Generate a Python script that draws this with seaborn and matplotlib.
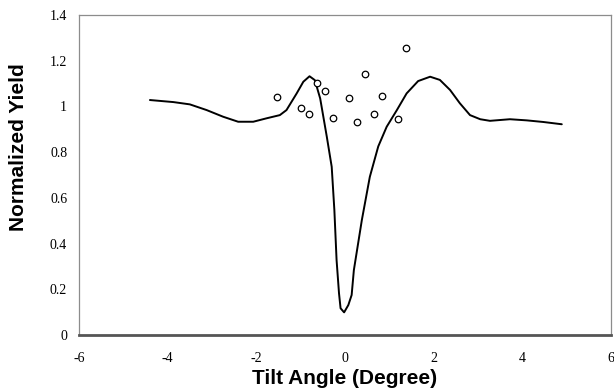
import matplotlib
matplotlib.use("Agg")
import matplotlib.pyplot as plt
import seaborn as sns
import pandas as pd

# Measured normalized yield (open circles)
meas_angle = [-1.53, -0.99, -0.81, -0.63, -0.44, -0.26, 0.10, 0.28, 0.46, 0.65, 0.83, 1.19, 1.37]
meas_yield = [1.041, 0.993, 0.967, 1.104, 1.069, 0.949, 1.038, 0.932, 1.142, 0.968, 1.047, 0.946, 1.257]

# Simulated angular scan (solid line)
sim_angle = [-4.40, -3.87, -3.50, -3.12, -2.75, -2.41, -2.07, -1.77, -1.47, -1.32, -1.09,
             -0.94, -0.80, -0.68, -0.56, -0.41, -0.30, -0.24, -0.19, -0.135, -0.10, -0.02,
             0.075, 0.15, 0.20, 0.38, 0.56, 0.75, 0.94, 1.17, 1.39, 1.65, 1.92, 2.14, 2.37,
             2.59, 2.82, 3.05, 3.27, 3.72, 4.10, 4.47, 4.89]
sim_yield = [1.028, 1.019, 1.009, 0.984, 0.955, 0.933, 0.933, 0.948, 0.962, 0.984, 1.057,
             1.108, 1.132, 1.115, 1.035, 0.867, 0.736, 0.547, 0.328, 0.182, 0.117, 0.099,
             0.131, 0.175, 0.284, 0.503, 0.692, 0.825, 0.911, 0.984, 1.057, 1.111, 1.130,
             1.116, 1.072, 1.014, 0.962, 0.944, 0.937, 0.944, 0.939, 0.932, 0.922]

x_ticks = [-6, -4, -2, 0, 2, 4, 6]
y_ticks = [0, 0.2, 0.4, 0.6, 0.8, 1.0, 1.2, 1.4]
y_tick_labels = ["0", "0.2", "0.4", "0.6", "0.8", "1", "1.2", "1.4"]

sim = pd.DataFrame({"angle": sim_angle, "yield": sim_yield})
meas = pd.DataFrame({"angle": meas_angle, "yield": meas_yield})

sns.set_style("white")
fig = plt.figure(figsize=(6.14, 3.92), dpi=100)
ax = fig.add_axes([79 / 614, 57 / 392, 532 / 614, 320 / 392])

sns.lineplot(data=sim, x="angle", y="yield", sort=False, color="black",
             linewidth=1.4, ax=ax)
sns.scatterplot(data=meas, x="angle", y="yield", marker="o", s=22,
                facecolor="white", edgecolor="black", linewidth=0.9, ax=ax, zorder=3)

ax.set_xlim(-6, 6)
ax.set_ylim(0, 1.4)
ax.set_xticks(x_ticks)
ax.set_xticklabels([str(t) for t in x_ticks])
ax.set_yticks(y_ticks)
ax.set_yticklabels(y_tick_labels)

for lbl in ax.get_xticklabels() + ax.get_yticklabels():
    lbl.set_fontfamily("Liberation Serif")
    lbl.set_fontsize(10)
    lbl.set_color("black")

ax.tick_params(axis="x", direction="out", length=3, width=1, color="#555555", pad=9)
ax.tick_params(axis="y", length=0, pad=8.5)

for side in ["top", "right", "left"]:
    ax.spines[side].set_color("#8c8c8c")
    ax.spines[side].set_linewidth(0.9)
ax.spines["bottom"].set_color("#555555")
ax.spines["bottom"].set_linewidth(2.0)

ax.set_xlabel("Tilt Angle (Degree)", fontfamily="Liberation Sans", fontweight="bold",
              fontsize=15, va="center", color="black")
ax.set_ylabel("Normalized Yield", fontfamily="Liberation Sans", fontweight="bold",
              fontsize=15, va="center", color="black")
ax.xaxis.set_label_coords(0.5, (335 - 379) / 320)
ax.yaxis.set_label_coords((18.5 - 79) / 532, (335 - 147.5) / 320)

fig.savefig("out.png", dpi=100)
